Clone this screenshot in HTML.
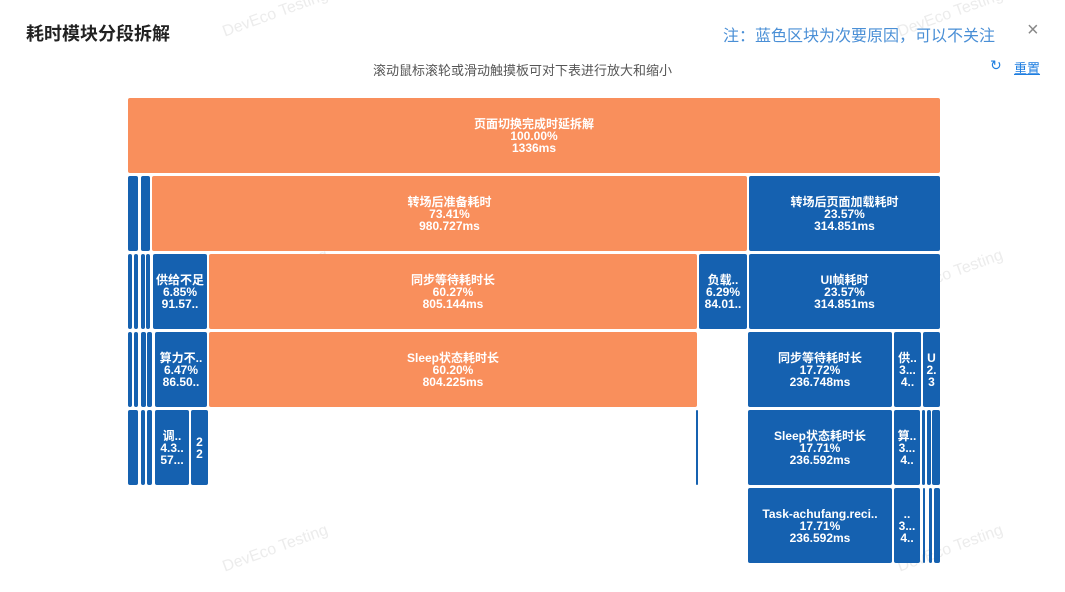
<!DOCTYPE html><html><head><meta charset="utf-8"><style>
body{margin:0;width:1065px;height:592px;background:#fff;font-family:"Liberation Sans","Noto Sans CJK SC",sans-serif;position:relative;overflow:hidden}
.b{position:absolute;box-sizing:border-box;border-radius:2px;color:#fff;font-size:12px;line-height:12px;font-weight:bold;text-align:center;display:flex;flex-direction:column;justify-content:center;overflow:hidden;white-space:nowrap}
.o{background:#F98F5C}.u{background:#1561B0}
.w{position:absolute;color:#ececec;font-size:16px;transform:rotate(-20deg)}
</style></head><body>
<div style="position:absolute;left:26px;top:20px;font-size:18px;font-weight:bold;color:#222">耗时模块分段拆解</div>
<div style="position:absolute;left:723px;top:22px;font-size:16px;color:#4a8fd6">注：蓝色区块为次要原因，可以不关注</div>
<div style="position:absolute;left:1027px;top:19px;font-size:20px;color:#888">×</div>
<div style="position:absolute;left:373px;top:60px;font-size:13px;color:#555">滚动鼠标滚轮或滑动触摸板可对下表进行放大和缩小</div>
<div style="position:absolute;left:990px;top:57px;font-size:14px;color:#1e7ee0">↻</div>
<div style="position:absolute;left:1014px;top:58px;font-size:13px;color:#1e7ee0;text-decoration:underline">重置</div>
<div class="w" style="left:220px;top:5px">DevEco Testing</div>
<div class="w" style="left:895px;top:5px">DevEco Testing</div>
<div class="w" style="left:220px;top:265px">DevEco Testing</div>
<div class="w" style="left:895px;top:265px">DevEco Testing</div>
<div class="w" style="left:220px;top:540px">DevEco Testing</div>
<div class="w" style="left:895px;top:540px">DevEco Testing</div>

<div class="b o" style="left:128px;top:98px;width:812px;height:75px">页面切换完成时延拆解<br>100.00%<br>1336ms</div>

<div class="b u" style="left:128px;top:176px;width:10px;height:75px"></div>
<div class="b u" style="left:141px;top:176px;width:9px;height:75px"></div>
<div class="b o" style="left:152px;top:176px;width:595px;height:75px">转场后准备耗时<br>73.41%<br>980.727ms</div>
<div class="b u" style="left:749px;top:176px;width:191px;height:75px">转场后页面加载耗时<br>23.57%<br>314.851ms</div>

<div class="b u" style="left:128px;top:254px;width:4px;height:75px"></div>
<div class="b u" style="left:134px;top:254px;width:4px;height:75px"></div>
<div class="b u" style="left:141px;top:254px;width:4px;height:75px"></div>
<div class="b u" style="left:146px;top:254px;width:4px;height:75px"></div>
<div class="b u" style="left:153px;top:254px;width:54px;height:75px">供给不足<br>6.85%<br>91.57..</div>
<div class="b o" style="left:209px;top:254px;width:488px;height:75px">同步等待耗时长<br>60.27%<br>805.144ms</div>
<div class="b u" style="left:699px;top:254px;width:48px;height:75px">负载..<br>6.29%<br>84.01..</div>
<div class="b u" style="left:749px;top:254px;width:191px;height:75px">UI帧耗时<br>23.57%<br>314.851ms</div>

<div class="b u" style="left:128px;top:332px;width:4px;height:75px"></div>
<div class="b u" style="left:134px;top:332px;width:4px;height:75px"></div>
<div class="b u" style="left:141px;top:332px;width:5px;height:75px"></div>
<div class="b u" style="left:147px;top:332px;width:5px;height:75px"></div>
<div class="b u" style="left:155px;top:332px;width:52px;height:75px">算力不..<br>6.47%<br>86.50..</div>
<div class="b o" style="left:209px;top:332px;width:488px;height:75px">Sleep状态耗时长<br>60.20%<br>804.225ms</div>
<div class="b u" style="left:748px;top:332px;width:144px;height:75px">同步等待耗时长<br>17.72%<br>236.748ms</div>
<div class="b u" style="left:894px;top:332px;width:27px;height:75px">供..<br>3...<br>4..</div>
<div class="b u" style="left:923px;top:332px;width:17px;height:75px">U<br>2.<br>3</div>

<div class="b u" style="left:128px;top:410px;width:10px;height:75px"></div>
<div class="b u" style="left:141px;top:410px;width:4px;height:75px"></div>
<div class="b u" style="left:147px;top:410px;width:5px;height:75px"></div>
<div class="b u" style="left:155px;top:410px;width:34px;height:75px">调..<br>4.3..<br>57...</div>
<div class="b u" style="left:191px;top:410px;width:17px;height:75px">2<br>2</div>
<div class="b u" style="left:696px;top:410px;width:2px;height:75px"></div>
<div class="b u" style="left:748px;top:410px;width:144px;height:75px">Sleep状态耗时长<br>17.71%<br>236.592ms</div>
<div class="b u" style="left:894px;top:410px;width:26px;height:75px">算..<br>3...<br>4..</div>
<div class="b u" style="left:922px;top:410px;width:3px;height:75px"></div>
<div class="b u" style="left:927px;top:410px;width:4px;height:75px"></div>
<div class="b u" style="left:932px;top:410px;width:8px;height:75px"></div>

<div class="b u" style="left:748px;top:488px;width:144px;height:75px">Task-achufang.reci..<br>17.71%<br>236.592ms</div>
<div class="b u" style="left:894px;top:488px;width:26px;height:75px">..<br>3...<br>4..</div>
<div class="b u" style="left:923px;top:488px;width:2px;height:75px"></div>
<div class="b u" style="left:929px;top:488px;width:3px;height:75px"></div>
<div class="b u" style="left:934px;top:488px;width:6px;height:75px"></div>
</body></html>
